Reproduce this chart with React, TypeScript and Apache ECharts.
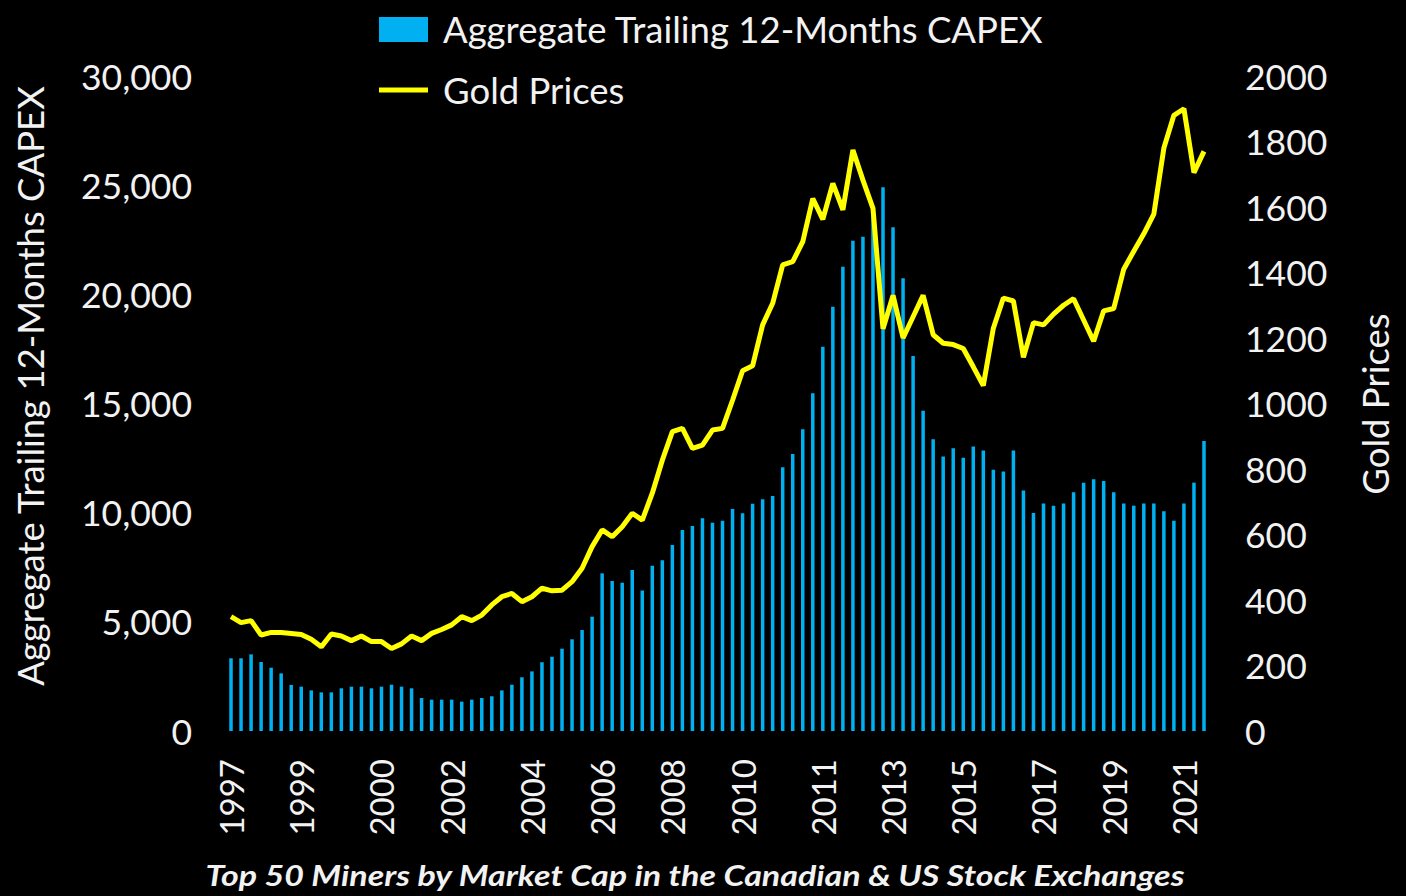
import React, { useEffect, useRef } from "react";
import * as echarts from "echarts";

// Quarterly categories, 1997 Q1 .. 2021 Q2 (98 quarters)
const startYear = 1997;
const quarterCount = 98;
const quarters: string[] = [];
for (let i = 0; i < quarterCount; i++) {
  quarters.push(`${startYear + Math.floor(i / 4)} Q${(i % 4) + 1}`);
}

// Aggregate trailing 12-months CAPEX (left axis)
const capex: number[] = [
  3330, 3330, 3510, 3160, 2900, 2640, 2110, 2030, 1860, 1770,
  1770, 1955, 2030, 2030, 1955, 2030, 2120, 2030, 1955, 1510,
  1435, 1435, 1435, 1345, 1435, 1510, 1590, 1860, 2120, 2460,
  2730, 3150, 3400, 3770, 4200, 4625, 5235, 7220, 6870, 6790,
  7375, 6430, 7570, 7815, 8520, 9205, 9390, 9740, 9540, 9630,
  10170, 9970, 10410, 10610, 10760, 12080, 12690, 13815, 15465, 17600,
  19430, 21265, 22455, 22640, 24000, 24900, 23070, 20740, 17175, 14670,
  13360, 12570, 12945, 12510, 13025, 12845, 11970, 11890, 12845, 11020,
  9985, 10420, 10320, 10420, 10935, 11375, 11535, 11450, 10935, 10420,
  10320, 10420, 10420, 10065, 9630, 10420, 11375, 13280,
];

// Gold prices (right axis)
const gold: number[] = [
  349, 331, 337, 293, 301, 301, 298, 295, 280, 257,
  296, 290, 276, 290, 273, 273, 252, 266, 290, 276,
  298, 310, 324, 349, 337, 354, 385, 410, 420, 395,
  410, 436, 428, 430, 456, 497, 563, 614, 593, 624,
  665, 644, 726, 827, 914, 924, 863, 873, 919, 924,
  1010, 1100, 1115, 1240, 1306, 1423, 1433, 1494, 1626, 1562,
  1672, 1591, 1774, 1682, 1596, 1228, 1330, 1200, 1265, 1330,
  1210, 1184, 1180, 1168, 1112, 1055, 1230, 1322, 1313, 1141,
  1247, 1240, 1273, 1300, 1320, 1255, 1190, 1283, 1290, 1410,
  1465, 1518, 1578, 1780, 1880, 1900, 1705, 1770,
];

// X tick labels and the quarter index each one sits on
const xTickIndex: number[] = [0, 7, 15, 22, 30, 37, 44, 51, 59, 66, 73, 81, 88, 95];
const xTickLabels: string[] = [
  "1997", "1999", "2000", "2002", "2004", "2006", "2008",
  "2010", "2011", "2013", "2015", "2017", "2019", "2021",
];

const capexName = "Aggregate Trailing 12-Months CAPEX";
const goldName = "Gold Prices";
const caption = "Top 50 Miners by Market Cap in the Canadian & US Stock Exchanges";

const TEXT = "#f2f2f2";
const FONT = "Lato";
const BLUE = "#00B0F0";
const YELLOW = "#FFFF00";

export default function App() {
  const ref = useRef<HTMLDivElement>(null);
  useEffect(() => {
    if (!ref.current) return;
    const chart = echarts.init(ref.current, null, { renderer: "svg" });
    chart.setOption({
      animation: false,
      backgroundColor: "#000000",
      grid: { left: 226, right: 197, top: 76, bottom: 165 },
      xAxis: {
        type: "category",
        data: quarters,
        axisLine: { show: false },
        axisTick: { show: false },
        splitLine: { show: false },
        axisLabel: {
          interval: (i: number) => xTickIndex.includes(i),
          formatter: (_v: string, i: number) => {
            const k = xTickIndex.indexOf(i);
            return k >= 0 ? xTickLabels[k] : "";
          },
          rotate: 90,
          margin: 28,
          color: TEXT,
          fontSize: 33,
          fontFamily: FONT,
        },
      },
      yAxis: [
        {
          type: "value",
          min: 0,
          max: 30000,
          interval: 5000,
          axisLine: { show: false },
          axisTick: { show: false },
          splitLine: { show: false },
          axisLabel: {
            margin: 34,
            color: TEXT,
            fontSize: 35.5,
            fontFamily: FONT,
            formatter: (v: number) => v.toLocaleString("en-US"),
          },
        },
        {
          type: "value",
          min: 0,
          max: 2000,
          interval: 200,
          position: "right",
          axisLine: { show: false },
          axisTick: { show: false },
          splitLine: { show: false },
          axisLabel: {
            margin: 36,
            color: TEXT,
            fontSize: 35.5,
            fontFamily: FONT,
            formatter: (v: number) => String(v),
          },
        },
      ],
      series: [
        {
          name: capexName,
          type: "bar",
          data: capex,
          barWidth: 3.5,
          itemStyle: { color: BLUE },
        },
        {
          name: goldName,
          type: "line",
          yAxisIndex: 1,
          data: gold,
          symbol: "none",
          showSymbol: false,
          lineStyle: { color: YELLOW, width: 5 },
          itemStyle: { color: YELLOW },
        },
      ],
      graphic: [
        {
          type: "text",
          x: 30,
          y: 386,
          rotation: Math.PI / 2,
          style: {
            text: capexName,
            fill: TEXT,
            fontSize: 36.5,
            fontFamily: FONT,
            align: "center",
            verticalAlign: "middle",
          },
        },
        {
          type: "text",
          x: 1375,
          y: 404,
          rotation: Math.PI / 2,
          style: {
            text: goldName,
            fill: TEXT,
            fontSize: 36.5,
            fontFamily: FONT,
            align: "center",
            verticalAlign: "middle",
          },
        },
        {
          type: "rect",
          shape: { x: 379, y: 17, width: 49, height: 25 },
          style: { fill: BLUE },
        },
        {
          type: "text",
          x: 443,
          y: 29,
          style: {
            text: capexName,
            fill: TEXT,
            fontSize: 36.5,
            fontFamily: FONT,
            align: "left",
            verticalAlign: "middle",
          },
        },
        {
          type: "line",
          shape: { x1: 379, y1: 90, x2: 428, y2: 90 },
          style: { stroke: YELLOW, lineWidth: 5 },
        },
        {
          type: "text",
          x: 443,
          y: 90,
          style: {
            text: goldName,
            fill: TEXT,
            fontSize: 36.5,
            fontFamily: FONT,
            align: "left",
            verticalAlign: "middle",
          },
        },
        {
          type: "text",
          x: 695,
          y: 875,
          scaleY: 0.85,
          style: {
            text: caption,
            fill: TEXT,
            fontSize: 34,
            fontFamily: FONT,
            fontStyle: "italic",
            fontWeight: "bold",
            align: "center",
            verticalAlign: "middle",
          },
        },
      ],
    });
    return () => chart.dispose();
  }, []);
  return (
    <div
      ref={ref}
      style={{ position: "fixed", left: 0, top: 0, width: 1406, height: 896 }}
    />
  );
}
